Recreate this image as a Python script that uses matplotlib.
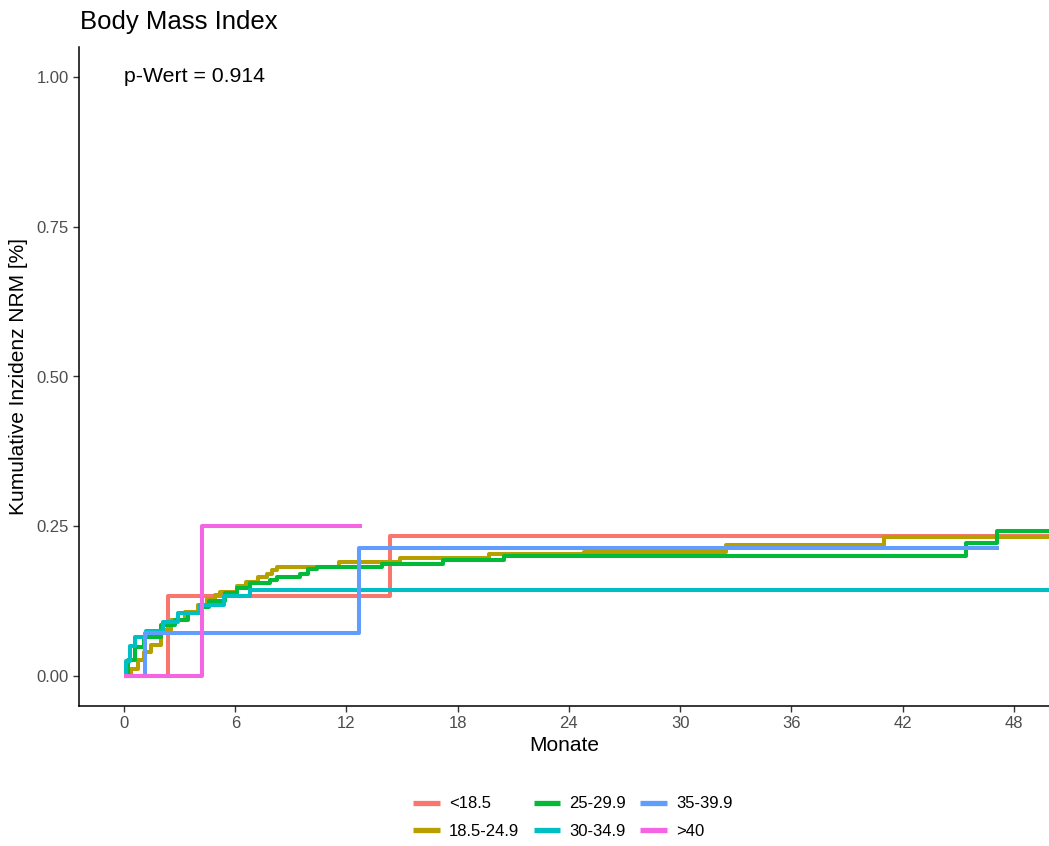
import matplotlib
matplotlib.use("Agg")
import matplotlib.pyplot as plt

plt.rcParams['font.family'] = ['Liberation Sans', 'DejaVu Sans']

groups = ["<18.5", "18.5-24.9", "25-29.9", "30-34.9", "35-39.9", ">40"]
colors = ["#F8766D", "#B79F00", "#00BA38", "#00BFC4", "#619CFF", "#F564E3"]

t_lt185 = [0, 2.37, 14.34, 50.5]
y_lt185 = [0, 0.133, 0.233, 0.233]

t_185 = [0, 0.4, 0.75, 1.1, 1.46, 2.0, 2.53, 3.3, 4.0, 4.5, 4.9, 5.2, 6.1, 6.6,
         7.2, 7.7, 8.0, 8.25, 11.6, 14.9, 19.7, 24.8, 32.5, 41.0, 50.5]
y_185 = [0, 0.012, 0.027, 0.04, 0.052, 0.077, 0.093, 0.107, 0.118, 0.128, 0.135,
         0.14, 0.15, 0.157, 0.165, 0.17, 0.177, 0.182, 0.19, 0.197, 0.204, 0.207,
         0.219, 0.232, 0.232]

t_25 = [0, 0.2, 0.6, 1.1, 2.0, 2.75, 3.45, 4.15, 4.6, 5.45, 6.1, 6.8, 7.9, 8.25,
        9.5, 9.9, 10.4, 13.9, 17.2, 20.5, 45.4, 47.1, 50.5]
y_25 = [0, 0.027, 0.048, 0.065, 0.085, 0.093, 0.105, 0.115, 0.125, 0.138, 0.147,
        0.155, 0.16, 0.165, 0.17, 0.178, 0.182, 0.187, 0.193, 0.2, 0.222, 0.242, 0.242]

t_30 = [0, 0.1, 0.3, 0.6, 1.2, 2.1, 2.9, 4.1, 5.4, 6.8, 50.5]
y_30 = [0, 0.025, 0.05, 0.065, 0.075, 0.09, 0.105, 0.118, 0.133, 0.143, 0.143]

t_35 = [0, 1.13, 12.67, 47.2]
y_35 = [0, 0.0714, 0.214, 0.214]

t_40 = [0, 4.2, 12.83]
y_40 = [0, 0.25, 0.25]

series_t = [t_lt185, t_185, t_25, t_30, t_35, t_40]
series_y = [y_lt185, y_185, y_25, y_30, y_35, y_40]

xticks = [0, 6, 12, 18, 24, 30, 36, 42, 48]
yticks = [0.0, 0.25, 0.5, 0.75, 1.0]
ytick_labels = ["0.00", "0.25", "0.50", "0.75", "1.00"]

fig = plt.figure(figsize=(10.49, 8.46), dpi=100)
ax = fig.add_axes([79/1049, 140/846, 970/1049, 659/846])

for t, y, c, g in zip(series_t, series_y, colors, groups):
    ax.step(t, y, where='post', color=c, lw=2.9, label=g, solid_capstyle='butt')

ax.set_xlim(-2.43, 49.9)
ax.set_ylim(-0.05, 1.05)
ax.set_xticks(xticks)
ax.set_yticks(yticks)
ax.set_yticklabels(ytick_labels)
for s in ['top', 'right']:
    ax.spines[s].set_visible(False)
for s in ['left', 'bottom']:
    ax.spines[s].set_linewidth(1.1)
    ax.spines[s].set_color('black')
ax.tick_params(axis='both', labelsize=12, labelcolor='#4D4D4D', length=4,
               width=1.0, color='#333333')

ax.set_xlabel("Monate", fontsize=15, labelpad=3)
ax.set_ylabel("Kumulative Inzidenz NRM [%]", fontsize=15, labelpad=6)

fig.text(80/1049, 1 - 22/846, "Body Mass Index", fontsize=18.5, ha='left', va='center')
ax.text(0, 1.0, "p-Wert = 0.914", fontsize=15.3, ha='left', va='center')

leg = fig.legend(loc='center', bbox_to_anchor=(573/1049, 1 - 817.5/846), ncol=3,
                 frameon=False, fontsize=12, handlelength=1.6, handletextpad=0.55,
                 columnspacing=0.85, labelspacing=0.74)
for h in leg.get_lines():
    h.set_linewidth(3.8)

fig.savefig("out.png", dpi=100)
